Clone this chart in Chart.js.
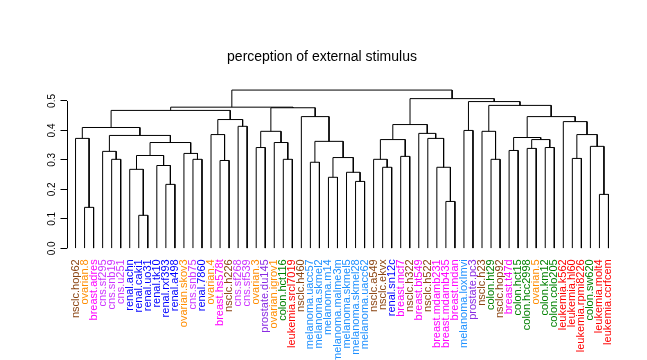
<!DOCTYPE html>
<html>
<head>
  <title>perception of external stimulus</title>
  <style>
    html, body { margin: 0; padding: 0; background: #fff; }
    canvas { display: block; }
  </style>
  <script src="https://cdn.jsdelivr.net/npm/chart.js"></script>
</head>
<body>
  <canvas id="dendro" width="647" height="360"></canvas>
  <script>
    const chartTitle = 'perception of external stimulus';

    // leaves in plotted order
    const leafLabels = [
      'nsclc.hop62', 'ovarian.8', 'breast.adres', 'cns.sf295', 'cns.snb19', 'cns.u251',
      'renal.achn', 'renal.caki1', 'renal.uo31', 'renal.tk10', 'renal.rxf393', 'renal.a498',
      'ovarian.skov3', 'cns.snb75', 'renal.7860', 'ovarian.4', 'breast.hs578t', 'nsclc.h226',
      'cns.sf268', 'cns.sf539', 'ovarian.3', 'prostate.du145', 'ovarian.igrov1', 'colon.hct116',
      'leukemia.srcl7019', 'nsclc.h460', 'melanoma.uacc57', 'melanoma.skmel2', 'melanoma.m14',
      'melanoma.malme3m', 'melanoma.skmel5', 'melanoma.skmel28', 'melanoma.uacc62', 'nsclc.a549',
      'nsclc.ekvx', 'renal.sn12c', 'breast.mcf7', 'nsclc.h322', 'breast.bt549', 'nsclc.h522',
      'breast.mdamb231', 'breast.mdamb435', 'breast.mdan', 'melanoma.loxImvi', 'prostate.pc3',
      'nsclc.h23', 'colon.ht29', 'nsclc.hop92', 'breast.t47d', 'colon.hct15', 'colon.hcc2998',
      'ovarian.5', 'colon.km12', 'colon.colo205', 'leukemia.k562', 'leukemia.hl60',
      'leukemia.rpmi8226', 'colon.sw620', 'leukemia.molt4', 'leukemia.ccrfcem'
    ];

    const groupColors = {
      nsclc: '#8B4513', ovarian: '#FF8C00', breast: '#FF00FF', cns: '#CC33FF',
      renal: '#0000FF', melanoma: '#1E90FF', prostate: '#8A2BE2', colon: '#008000',
      leukemia: '#FF0000'
    };

    // hclust style merges: negative = leaf number, positive = earlier merge row
    const mergeLeft = [-8, -2, -42, -59, -11, -32, -29, -7, -35, -41,
      -31, -10, -27, -17, -5, -14, -24, -34, -47, -56,
      7, -37, 8, -13, -4, -49, -51, -21, -53, -58,
      23, -23, 13, 18, 27, -1, -40, 26, 25, -16,
      20, -39, 28, -46, -44, 36, -19, 34, -55, 40,
      -26, 38, 46, 43, 53, 44, 45, 48, 55];
    const mergeRight = [-9, -3, -43, -60, -12, -33, -30, 1, -36, 3,
      6, 5, -28, -18, -6, -15, -25, 9, -48, -57,
      11, -38, 12, 16, 15, -50, -52, -22, -54, 4,
      24, 17, 21, 22, 29, 2, 10, 35, 31, 14,
      30, 37, 32, 19, -45, 39, -20, 42, 41, 47,
      33, 49, 50, 51, 54, 52, 56, 57, 58];
    const mergeHeight = [0.112, 0.139, 0.159, 0.183, 0.217, 0.227, 0.241, 0.268, 0.275, 0.275,
      0.258, 0.281, 0.292, 0.298, 0.302, 0.302, 0.302, 0.302, 0.302, 0.305,
      0.308, 0.312, 0.315, 0.322, 0.329, 0.332, 0.339, 0.342, 0.342, 0.346,
      0.359, 0.359, 0.363, 0.369, 0.369, 0.373, 0.373, 0.376, 0.383, 0.386,
      0.386, 0.390, 0.397, 0.397, 0.400, 0.410, 0.414, 0.420, 0.430, 0.437,
      0.447, 0.447, 0.468, 0.477, 0.479, 0.485, 0.498, 0.508, 0.537];

    const yTicks = [0, 0.1, 0.2, 0.3, 0.4, 0.5];

    // build the U shapes, node x = midpoint of its children
    const nodeX = [], nodeH = [];
    function childPos(ref) {
      return ref < 0 ? [-ref - 1, 0] : [nodeX[ref - 1], nodeH[ref - 1]];
    }
    const segs = [];
    mergeHeight.forEach((h, k) => {
      const [lx, lh] = childPos(mergeLeft[k]);
      const [rx, rh] = childPos(mergeRight[k]);
      nodeX.push((lx + rx) / 2);
      nodeH.push(h);
      segs.push({x: lx, y: lh}, {x: lx, y: h}, {x: rx, y: h}, {x: rx, y: rh}, {x: rx, y: null});
    });

    function leafColor(i) {
      const lab = leafLabels[i];
      return lab ? groupColors[lab.split('.')[0]] : '#000';
    }

    // R style axis line, only over the tick range
    const yAxisLine = {
      id: 'yAxisLine',
      afterDraw(chart) {
        const s = chart.scales.y, ctx = chart.ctx;
        const x = Math.round(s.right) + 0.5;
        ctx.save();
        ctx.strokeStyle = '#000';
        ctx.lineWidth = 1;
        ctx.beginPath();
        ctx.moveTo(x, s.getPixelForValue(yTicks[0]));
        ctx.lineTo(x, s.getPixelForValue(yTicks[yTicks.length - 1]));
        ctx.stroke();
        ctx.restore();
      }
    };

    const font = '"Liberation Sans", Arial, sans-serif';

    new Chart(document.getElementById('dendro'), {
      type: 'scatter',
      data: {
        datasets: [{
          data: segs,
          showLine: true,
          spanGaps: false,
          borderColor: '#000',
          borderWidth: 1,
          pointRadius: 0,
          pointHoverRadius: 0
        }]
      },
      options: {
        responsive: false,
        animation: false,
        events: [],
        layout: { padding: { left: 26.5, right: 29.5, top: 0, bottom: 0 } },
        plugins: {
          legend: { display: false },
          tooltip: { enabled: false },
          title: {
            display: true,
            text: chartTitle,
            color: '#000',
            font: { family: font, size: 14, weight: 'normal' },
            padding: { top: 48.4, bottom: 18.1 }
          }
        },
        scales: {
          x: {
            type: 'linear',
            min: -1,
            max: 60,
            grid: { display: false },
            border: { display: false },
            afterBuildTicks: s => { s.ticks = leafLabels.map((_, i) => ({ value: i })); },
            afterFit: s => { s.height = 111.7; },
            ticks: {
              autoSkip: false,
              minRotation: 90,
              maxRotation: 90,
              padding: 3,
              font: { family: font, size: 11 },
              color: ctx => ctx.tick ? leafColor(ctx.tick.value) : '#000',
              callback: v => leafLabels[v] || ''
            }
          },
          y: {
            type: 'linear',
            min: 0,
            max: 0.56,
            border: { display: false },
            grid: { drawOnChartArea: false, drawTicks: true, tickLength: 6, color: '#000' },
            afterBuildTicks: s => { s.ticks = yTicks.map(v => ({ value: v })); },
            afterFit: s => { s.width = 40; },
            ticks: {
              minRotation: 90,
              maxRotation: 90,
              crossAlign: 'center',
              padding: 1.5,
              color: '#000',
              font: { family: font, size: 10 },
              callback: v => v.toFixed(1)
            }
          }
        }
      },
      plugins: [yAxisLine]
    });
  </script>
</body>
</html>
